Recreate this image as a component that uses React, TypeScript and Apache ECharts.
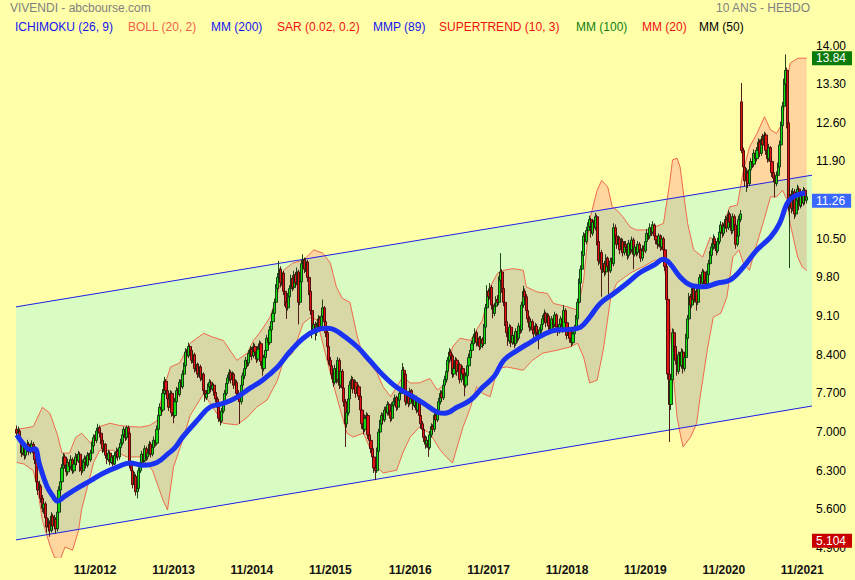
import { useEffect, useRef } from 'react';
import * as echarts from 'echarts';

// ---------- data ----------
const START_UTC = Date.UTC(2011, 10, 7); // first weekly candle (Monday)
const WEEK_COUNT = 528; // categories on the time axis

// weekly candles: [open, close, low, high]
const weeklyCandles: number[][] = [
[7.05,6.98,6.90,7.12],[6.98,7.02,6.92,7.10],[7.02,6.85,6.80,7.06],[6.85,6.62,6.55,6.90],[6.62,6.75,6.58,6.82],
[6.75,6.58,6.50,6.80],[6.58,6.70,6.52,6.76],[6.70,6.78,6.64,6.86],[6.78,6.64,6.58,6.82],[6.64,6.72,6.60,6.80],
[6.72,6.78,6.66,6.85],[6.78,6.62,6.55,6.82],[6.62,6.50,6.42,6.68],[6.50,6.10,6.02,6.55],[6.10,5.95,5.86,6.18],
[5.95,6.02,5.88,6.12],[6.02,5.80,5.72,6.06],[5.80,5.62,5.55,5.86],[5.62,5.70,5.52,5.78],[5.70,5.45,5.36,5.74],
[5.45,5.28,5.18,5.50],[5.28,5.35,5.20,5.44],[5.35,5.22,5.104,5.40],[5.22,5.48,5.18,5.55],[5.48,5.30,5.22,5.52],
[5.30,5.42,5.24,5.50],[5.42,5.25,5.16,5.46],[5.25,5.55,5.20,5.62],[5.55,5.95,5.50,6.02],[5.95,6.10,5.88,6.18],
[6.10,6.35,6.05,6.42],[6.35,6.55,6.30,6.62],[6.55,6.40,6.34,6.60],[6.40,6.28,6.20,6.45],[6.28,6.45,6.22,6.52],
[6.45,6.38,6.30,6.50],[6.38,6.50,6.32,6.58],[6.50,6.30,6.24,6.54],[6.30,6.42,6.26,6.48],[6.42,6.55,6.38,6.62],
[6.55,6.48,6.40,6.60],[6.48,6.60,6.44,6.66],[6.60,6.35,6.28,6.64],[6.35,6.30,6.22,6.40],[6.30,6.45,6.26,6.50],
[6.45,6.52,6.40,6.58],[6.52,6.40,6.34,6.56],[6.40,6.58,6.36,6.64],[6.58,6.50,6.44,6.62],[6.50,6.62,6.46,6.68],
[6.62,6.75,6.58,6.82],[6.75,6.90,6.70,6.96],[6.90,6.85,6.78,6.95],[6.85,7.02,6.80,7.08],[7.02,7.08,6.96,7.15],
[7.08,6.98,6.90,7.12],[6.98,6.85,6.78,7.02],[6.85,6.70,6.62,6.90],[6.70,6.78,6.64,6.84],[6.78,6.58,6.52,6.80],
[6.58,6.50,6.42,6.62],[6.50,6.62,6.46,6.68],[6.62,6.45,6.40,6.66],[6.45,6.55,6.42,6.60],[6.55,6.42,6.38,6.58],
[6.42,6.58,6.40,6.64],[6.58,6.65,6.52,6.72],[6.65,6.55,6.48,6.70],[6.55,6.72,6.50,6.78],[6.72,6.80,6.66,6.88],
[6.80,6.95,6.76,7.00],[6.95,7.05,6.90,7.10],[7.05,6.90,6.84,7.08],[6.90,7.08,6.86,7.12],[7.08,6.98,6.92,7.12],
[6.98,6.40,6.34,7.00],[6.40,6.30,6.22,6.46],[6.30,6.05,5.98,6.34],[6.05,6.20,6.00,6.28],[6.20,5.92,5.85,6.24],
[5.92,5.98,5.80,6.05],[5.98,6.30,5.94,6.36],[6.30,6.45,6.26,6.52],[6.45,6.60,6.40,6.66],[6.60,6.48,6.42,6.64],
[6.48,6.70,6.45,6.76],[6.70,6.55,6.48,6.74],[6.55,6.62,6.50,6.68],[6.62,6.78,6.58,6.84],[6.78,6.60,6.54,6.82],
[6.60,6.72,6.56,6.78],[6.72,6.85,6.68,6.92],[6.85,6.80,6.74,6.90],[6.80,7.05,6.76,7.12],[7.05,7.30,7.00,7.38],
[7.30,7.45,7.25,7.52],[7.45,7.40,7.32,7.50],[7.40,7.70,7.36,7.78],[7.70,7.92,7.65,8.00],[7.92,7.75,7.68,7.96],
[7.75,7.60,7.52,7.80],[7.60,7.45,7.38,7.65],[7.45,7.70,7.40,7.76],[7.70,7.35,7.28,7.74],[7.35,7.30,7.16,7.42],
[7.30,7.55,7.26,7.62],[7.55,7.75,7.50,7.82],[7.75,7.68,7.60,7.80],[7.68,7.90,7.64,7.96],[7.90,7.82,7.75,7.95],
[7.82,8.05,7.78,8.12],[8.05,8.20,8.00,8.26],[8.20,8.45,8.15,8.52],[8.45,8.38,8.30,8.50],[8.38,8.55,8.34,8.62],
[8.55,8.48,8.40,8.58],[8.48,8.30,8.24,8.52],[8.30,8.40,8.25,8.46],[8.40,8.15,8.08,8.44],[8.15,8.22,8.10,8.28],
[8.22,8.05,7.98,8.26],[8.05,8.18,8.00,8.24],[8.18,7.98,7.92,8.22],[7.98,8.05,7.94,8.10],[8.05,7.75,7.68,8.08],
[7.75,7.62,7.55,7.80],[7.62,7.70,7.58,7.76],[7.70,7.82,7.66,7.88],[7.82,7.90,7.76,7.96],[7.90,7.78,7.72,7.94],
[7.78,7.85,7.74,7.90],[7.85,7.72,7.66,7.88],[7.72,7.60,7.54,7.76],[7.60,7.45,7.38,7.64],[7.45,7.25,7.18,7.48],
[7.25,7.20,7.12,7.30],[7.20,7.38,7.16,7.44],[7.38,7.55,7.34,7.60],[7.55,7.70,7.50,7.76],[7.70,7.88,7.66,7.94],
[7.88,7.98,7.84,8.04],[7.98,8.08,7.92,8.14],[8.08,7.95,7.88,8.12],[7.95,8.05,7.90,8.10],[8.05,7.85,7.78,8.08],
[7.85,7.90,7.80,7.96],[7.90,7.70,7.62,7.94],[7.70,7.62,7.55,7.76],[7.62,7.55,7.15,7.66],[7.55,7.85,7.50,7.92],
[7.85,8.02,7.80,8.08],[8.02,8.15,7.96,8.22],[8.15,8.30,8.10,8.36],[8.30,8.25,8.18,8.36],[8.25,8.42,8.20,8.48],
[8.42,8.50,8.36,8.56],[8.50,8.38,8.30,8.54],[8.38,8.55,8.34,8.62],[8.55,8.45,8.38,8.60],[8.45,8.32,8.25,8.50],
[8.32,8.50,8.28,8.56],[8.50,8.60,8.45,8.66],[8.60,8.28,8.20,8.64],[8.28,8.15,8.02,8.32],[8.15,8.35,8.10,8.40],
[8.35,8.48,8.30,8.54],[8.48,8.70,8.44,8.76],[8.70,8.62,8.55,8.76],[8.62,8.85,8.58,8.92],[8.85,9.00,8.80,9.06],
[9.00,9.15,8.94,9.22],[9.15,9.35,9.10,9.42],[9.35,9.60,9.30,9.68],[9.60,9.80,9.55,9.88],[9.80,9.95,9.74,10.10],
[9.95,9.70,9.62,10.00],[9.70,9.88,9.65,9.94],[9.88,9.55,9.48,9.92],[9.55,9.35,9.28,9.60],[9.35,9.25,9.05,9.40],
[9.25,9.45,9.20,9.52],[9.45,9.60,9.40,9.66],[9.60,9.78,9.55,9.85],[9.78,9.62,9.55,9.84],[9.62,9.85,9.58,9.92],
[9.85,9.70,9.62,9.90],[9.70,9.90,9.66,9.98],[9.90,9.35,8.95,9.94],[9.35,9.72,9.30,9.78],[9.72,10.05,9.68,10.12],
[10.05,10.12,9.98,10.22],[10.12,9.95,9.88,10.16],[9.95,10.08,9.90,10.15],[10.08,9.80,9.72,10.12],[9.80,9.55,9.48,9.85],
[9.55,9.20,9.12,9.60],[9.20,8.85,8.70,9.25],[8.85,8.95,8.78,9.02],[8.95,8.80,8.66,9.00],[8.80,8.92,8.74,8.98],
[8.92,9.05,8.88,9.12],[9.05,8.90,8.82,9.10],[8.90,9.10,8.86,9.16],[9.10,9.25,9.05,9.40],[9.25,9.00,8.92,9.28],
[9.00,8.80,8.72,9.04],[8.80,8.55,8.48,8.85],[8.55,8.30,8.22,8.60],[8.30,8.20,8.12,8.36],[8.20,8.05,7.96,8.26],
[8.05,7.90,7.82,8.10],[7.90,8.15,7.86,8.22],[8.15,7.95,7.88,8.20],[7.95,8.30,7.90,8.36],[8.30,7.85,7.78,8.34],
[7.85,8.10,7.80,8.16],[8.10,7.80,7.72,8.14],[7.80,7.55,7.46,7.84],[7.55,7.15,6.73,7.60],[7.15,7.35,7.08,7.42],
[7.35,7.60,7.30,7.66],[7.60,7.85,7.55,7.92],[7.85,7.95,7.80,8.02],[7.95,7.78,7.70,8.00],[7.78,7.90,7.74,7.96],
[7.90,7.70,7.62,7.94],[7.70,7.82,7.66,7.88],[7.82,7.65,7.58,7.86],[7.65,7.40,7.32,7.70],[7.40,7.15,7.06,7.44],
[7.15,7.05,6.96,7.20],[7.05,7.25,7.00,7.32],[7.25,7.30,7.18,7.36],[7.30,6.95,6.88,7.34],[6.95,6.85,6.76,7.00],
[6.85,6.70,6.62,6.90],[6.70,6.55,6.46,6.74],[6.55,6.35,6.26,6.60],[6.35,6.30,6.13,6.42],[6.30,6.65,6.26,6.72],
[6.65,7.00,6.60,7.06],[7.00,7.15,6.94,7.22],[7.15,7.30,7.10,7.36],[7.30,7.22,7.14,7.34],[7.22,7.40,7.18,7.46],
[7.40,7.35,7.28,7.46],[7.35,7.50,7.30,7.56],[7.50,7.38,7.30,7.54],[7.38,7.25,7.18,7.42],[7.25,7.48,7.20,7.54],
[7.48,7.55,7.42,7.62],[7.55,7.62,7.50,7.68],[7.62,7.45,7.38,7.66],[7.45,7.58,7.40,7.64],[7.58,7.70,7.54,7.76],
[7.70,7.75,7.64,7.82],[7.75,8.12,7.70,8.25],[8.12,8.05,7.96,8.18],[8.05,7.55,7.48,8.08],[7.55,7.70,7.50,7.76],
[7.70,7.52,7.45,7.74],[7.52,7.75,7.48,7.80],[7.75,7.60,7.54,7.78],[7.60,7.48,7.40,7.64],[7.48,7.62,7.44,7.68],
[7.62,7.40,7.34,7.66],[7.40,7.55,7.36,7.60],[7.55,7.30,7.22,7.58],[7.30,7.15,7.06,7.34],[7.15,7.05,6.96,7.20],
[7.05,6.90,6.82,7.10],[6.90,6.78,6.70,6.94],[6.78,6.85,6.72,6.92],[6.85,6.72,6.55,6.90],[6.72,6.95,6.68,7.02],
[6.95,7.10,6.90,7.16],[7.10,7.05,6.98,7.14],[7.05,7.30,7.00,7.36],[7.30,7.22,7.14,7.34],[7.22,7.40,7.18,7.46],
[7.40,7.55,7.36,7.62],[7.55,7.70,7.50,7.76],[7.70,7.62,7.55,7.75],[7.62,7.85,7.58,7.92],[7.85,7.95,7.80,8.02],
[7.95,8.10,7.90,8.16],[8.10,8.30,8.05,8.36],[8.30,8.45,8.25,8.52],[8.45,8.38,8.30,8.50],[8.38,8.05,7.98,8.42],
[8.05,8.15,8.00,8.22],[8.15,8.30,8.10,8.36],[8.30,8.10,8.02,8.34],[8.10,8.22,8.05,8.28],[8.22,7.95,7.88,8.26],
[7.95,8.15,7.90,8.20],[8.15,8.05,7.98,8.20],[8.05,7.85,7.65,8.10],[7.85,8.02,7.80,8.08],[8.02,8.20,7.98,8.26],
[8.20,8.35,8.15,8.42],[8.35,8.48,8.30,8.55],[8.48,8.60,8.42,8.66],[8.60,8.72,8.55,8.78],[8.72,8.80,8.66,8.88],
[8.80,8.62,8.55,8.84],[8.62,8.70,8.56,8.76],[8.70,8.55,8.48,8.74],[8.55,8.68,8.50,8.74],[8.68,8.60,8.52,8.72],
[8.60,8.90,8.56,8.96],[8.90,9.25,8.86,9.32],[9.25,9.55,9.20,9.66],[9.55,9.45,9.38,9.60],[9.45,9.62,9.40,9.70],
[9.62,9.30,9.22,9.66],[9.30,9.15,9.06,9.35],[9.15,9.28,9.10,9.34],[9.28,9.40,9.22,9.46],[9.40,9.35,9.28,9.48],
[9.35,9.75,9.30,9.82],[9.75,9.90,9.70,10.24],[9.90,9.60,9.52,9.95],[9.60,9.35,9.28,9.66],[9.35,9.00,8.92,9.40],
[9.00,8.80,8.72,9.05],[8.80,8.65,8.56,8.86],[8.65,8.90,8.60,8.96],[8.90,8.62,8.54,8.94],[8.62,8.75,8.58,8.82],
[8.75,8.60,8.52,8.80],[8.60,8.82,8.56,8.88],[8.82,8.70,8.62,8.86],[8.70,8.92,8.66,8.98],[8.92,8.85,8.78,8.96],
[8.85,9.30,8.80,9.36],[9.30,9.55,9.25,9.65],[9.55,9.45,9.38,9.60],[9.45,9.20,9.12,9.50],[9.20,9.05,8.98,9.25],
[9.05,8.90,8.82,9.10],[8.90,9.00,8.84,9.06],[9.00,8.85,8.78,9.04],[8.85,8.78,8.70,8.90],[8.78,8.92,8.74,8.98],
[8.92,8.80,8.72,8.96],[8.80,8.72,8.50,8.84],[8.72,8.85,8.68,8.90],[8.85,8.95,8.80,9.02],[8.95,9.05,8.90,9.12],
[9.05,9.15,9.00,9.22],[9.15,8.98,8.90,9.18],[8.98,9.10,8.94,9.16],[9.10,8.92,8.85,9.14],[8.92,8.85,8.78,8.96],
[8.85,9.05,8.80,9.10],[9.05,8.95,8.88,9.08],[8.95,9.12,8.90,9.18],[9.12,8.90,8.82,9.15],[8.90,8.82,8.74,8.94],
[8.82,8.95,8.78,9.00],[8.95,9.05,8.90,9.10],[9.05,8.88,8.80,9.08],[8.88,9.20,8.84,9.30],[9.20,8.98,8.90,9.24],
[8.98,8.75,8.68,9.02],[8.75,8.85,8.70,8.92],[8.85,8.70,8.62,8.88],[8.70,8.62,8.55,8.74],[8.62,8.78,8.58,8.84],
[8.78,8.88,8.72,8.94],[8.88,9.05,8.84,9.12],[9.05,9.35,9.00,9.42],[9.35,9.70,9.30,9.78],[9.70,9.95,9.65,10.02],
[9.95,10.20,9.90,10.28],[10.20,10.55,10.15,10.62],[10.55,10.45,10.38,10.60],[10.45,10.65,10.40,10.72],[10.65,10.72,10.58,10.80],
[10.72,10.85,10.66,10.92],[10.85,10.60,10.52,10.88],[10.60,10.80,10.55,10.86],[10.80,10.70,10.62,10.84],[10.70,10.90,10.65,10.97],
[10.90,10.45,10.38,10.94],[10.45,10.10,10.02,10.50],[10.10,10.25,10.05,10.32],[10.25,9.95,9.45,10.30],[9.95,10.05,9.88,10.12],
[10.05,9.90,9.82,10.10],[9.90,10.15,9.85,10.22],[10.15,10.00,9.92,10.18],[10.00,9.92,9.50,10.06],[9.92,10.10,9.88,10.16],
[10.10,10.05,9.98,10.16],[10.05,10.70,10.00,10.78],[10.70,10.55,10.48,10.76],[10.55,10.40,10.32,10.60],[10.40,10.50,10.35,10.56],
[10.50,10.30,10.22,10.54],[10.30,10.45,10.25,10.52],[10.45,10.25,10.18,10.50],[10.25,10.40,10.20,10.46],[10.40,10.35,10.28,10.46],
[10.35,10.20,10.12,10.40],[10.20,10.42,10.15,10.48],[10.42,10.30,10.22,10.46],[10.30,10.48,10.25,10.54],[10.48,10.22,9.95,10.52],
[10.22,10.35,10.18,10.40],[10.35,10.25,10.18,10.40],[10.25,10.40,10.20,10.46],[10.40,10.30,10.22,10.44],[10.30,10.15,10.08,10.34],
[10.15,10.32,10.10,10.38],[10.32,10.28,10.20,10.38],[10.28,10.45,10.24,10.52],[10.45,10.60,10.40,10.68],[10.60,10.55,10.48,10.66],
[10.55,10.70,10.50,10.78],[10.70,10.62,10.55,10.76],[10.62,10.75,10.58,10.82],[10.75,10.55,10.48,10.78],[10.55,10.48,10.40,10.60],
[10.48,10.40,10.32,10.52],[10.40,10.55,10.36,10.60],[10.55,10.35,10.28,10.58],[10.35,10.50,10.30,10.56],[10.50,10.30,10.22,10.54],
[10.30,10.00,9.92,10.34],[10.00,9.40,9.32,10.04],[9.40,8.05,7.95,9.45],[8.05,7.50,6.82,8.15],[7.50,7.95,7.40,8.05],
[7.95,8.80,7.90,8.88],[8.80,8.55,8.46,8.86],[8.55,8.30,8.22,8.60],[8.30,8.10,8.02,8.36],[8.10,8.40,8.05,8.46],
[8.40,8.20,8.12,8.45],[8.20,8.45,8.15,8.52],[8.45,8.15,8.06,8.50],[8.15,8.35,8.10,8.42],[8.35,8.70,8.30,8.78],
[8.70,9.05,8.65,9.12],[9.05,9.45,9.00,9.52],[9.45,9.30,9.22,9.50],[9.30,9.60,9.25,9.68],[9.60,9.40,9.32,9.65],
[9.40,9.55,9.35,9.62],[9.55,9.35,9.20,9.60],[9.35,9.62,9.30,9.68],[9.62,9.80,9.58,9.86],[9.80,9.70,9.62,9.85],
[9.70,9.90,9.66,9.96],[9.90,9.75,9.68,9.94],[9.75,9.68,9.60,9.80],[9.68,9.85,9.64,9.92],[9.85,10.05,9.80,10.12],
[10.05,10.20,10.00,10.28],[10.20,10.35,10.15,10.42],[10.35,10.50,10.30,10.58],[10.50,10.40,10.32,10.55],[10.40,10.28,10.20,10.45],
[10.28,10.45,10.24,10.52],[10.45,10.62,10.40,10.70],[10.62,10.75,10.58,10.82],[10.75,10.60,10.52,10.80],[10.60,10.72,10.55,10.78],
[10.72,10.85,10.68,10.92],[10.85,10.70,10.62,10.90],[10.70,10.95,10.66,11.02],[10.95,10.80,10.72,10.98],[10.80,10.65,10.58,10.84],
[10.65,10.90,10.60,10.96],[10.90,10.75,10.68,10.94],[10.75,10.40,10.32,10.80],[10.40,10.55,10.36,10.62],[10.55,10.85,10.50,10.92],
[10.85,10.95,10.80,11.02],[12.98,12.10,12.05,13.32],[12.10,11.80,11.72,12.15],[11.80,11.55,11.45,11.85],[11.55,11.70,11.35,11.78],
[11.70,11.50,11.42,11.74],[11.50,11.75,11.46,11.82],[11.75,11.90,11.70,11.96],[11.90,11.85,11.78,11.96],[11.85,12.05,11.80,12.12],
[12.05,11.95,11.88,12.10],[11.95,12.10,11.90,12.16],[12.10,12.25,12.05,12.32],[12.25,12.05,11.98,12.30],[12.05,12.30,12.00,12.36],
[12.30,12.20,12.12,12.40],[12.20,12.38,12.15,12.44],[12.38,12.10,12.02,12.42],[12.10,11.95,11.88,12.15],[11.95,12.15,11.90,12.22],
[12.15,11.90,11.82,12.18],[11.90,11.70,11.62,11.95],[11.70,11.60,11.52,11.76],[11.60,11.50,11.25,11.65],[11.50,11.65,11.45,11.72],
[11.65,11.80,11.60,11.88],[11.80,12.20,11.75,12.28],[12.20,12.55,12.15,12.62],[12.55,12.90,12.50,12.98],[12.90,13.30,12.85,13.40],
[13.30,13.55,13.20,13.84],[13.55,12.60,12.50,13.60],[12.60,11.10,11.00,12.65],[11.10,11.30,9.97,11.45],[11.30,11.05,10.96,11.38],
[11.05,11.35,11.00,11.42],[11.35,10.95,10.86,11.40],[10.95,11.20,10.90,11.28],[11.20,11.40,11.15,11.48],[11.40,11.10,11.02,11.45],
[11.10,11.30,11.05,11.36],[11.30,11.15,11.08,11.34],[11.15,11.38,11.10,11.44],[11.38,11.20,11.12,11.42],[11.20,11.26,11.14,11.32],
];

// Bollinger (20, 2) bands: [week index, price]
const bollUpper: number[][] = [
[0,7.05],[5,7.07],[11,7.10],[17,7.45],[22,7.34],[27,6.95],[30,6.62],[35,6.62],[39,6.90],[43,6.98],[49,6.80],[55,7.10],
[62,7.16],[68,7.12],[75,7.10],[82,7.09],[88,7.12],[93,7.20],[97,7.75],[102,8.18],[108,8.25],[115,8.61],[124,8.79],[130,8.72],
[137,8.66],[146,8.30],[153,8.43],[157,8.66],[161,8.79],[168,9.08],[173,9.51],[177,9.93],[183,10.06],[190,10.11],[197,10.30],
[203,10.24],[208,10.06],[212,9.63],[216,9.42],[221,9.35],[226,8.72],[230,8.36],[234,8.25],[239,8.07],[243,7.82],[248,7.64],
[252,7.82],[256,8.00],[261,7.89],[267,7.89],[274,7.97],[279,7.76],[285,7.89],[289,8.54],[294,8.70],[301,8.66],[305,8.85],
[309,9.03],[314,9.63],[319,9.88],[323,9.93],[329,9.96],[336,9.93],[338,9.63],[345,9.54],[352,9.51],[356,9.33],[365,9.27],
[372,9.21],[376,9.75],[380,10.84],[385,11.38],[388,11.56],[392,11.44],[395,11.08],[398,11.02],[402,10.90],[407,10.71],
[411,10.66],[418,10.66],[423,10.71],[429,10.78],[433,11.50],[435,11.93],[438,11.96],[440,11.80],[442,11.38],[445,10.78],
[449,10.30],[455,10.17],[460,10.53],[465,10.42],[469,10.78],[473,11.08],[478,11.11],[482,11.74],[486,12.16],[491,12.41],
[496,12.71],[500,12.47],[504,12.41],[508,12.60],[510,13.20],[513,13.68],[518,13.77],[524,13.77],
];
const bollLower: number[][] = [
[0,6.45],[5,6.42],[11,6.30],[14,5.95],[17,5.40],[22,4.95],[25,4.73],[29,4.70],[32,4.92],[37,4.86],[41,5.22],[43,5.60],
[47,6.02],[51,6.45],[55,6.67],[64,6.67],[73,6.55],[82,6.55],[90,6.31],[97,5.77],[100,5.59],[104,6.37],[110,6.85],[115,7.30],
[124,7.70],[130,7.45],[137,7.16],[146,7.13],[153,7.27],[159,7.45],[166,7.58],[173,7.94],[177,8.30],[183,8.43],[190,8.97],
[195,9.08],[199,9.03],[203,8.61],[208,8.07],[211,7.76],[219,6.98],[223,6.91],[230,6.98],[234,6.73],[239,6.37],[243,6.26],
[252,6.31],[256,6.62],[261,6.91],[267,7.09],[274,6.98],[281,6.67],[285,6.55],[289,6.44],[296,7.09],[301,7.45],[305,7.82],
[309,7.70],[314,7.64],[319,8.15],[325,8.18],[336,8.12],[342,8.30],[349,8.43],[358,8.48],[367,8.54],[372,8.61],[376,8.36],
[379,8.00],[380,7.89],[385,7.94],[389,8.48],[394,9.44],[398,9.70],[407,9.88],[415,9.99],[423,10.11],[429,10.11],[431,9.70],
[433,9.08],[435,8.18],[438,7.27],[440,6.98],[442,6.73],[447,6.91],[451,7.16],[453,7.58],[458,8.48],[462,9.08],[467,9.15],
[471,9.44],[475,10.17],[479,10.30],[482,10.06],[486,9.93],[491,10.42],[495,10.78],[500,11.26],[504,11.26],[508,11.38],
[511,11.20],[513,10.78],[518,10.17],[521,9.99],[524,9.93],
];

// MM (200): [week index, price]
const mm200: number[][] = [
[0,6.95],[4,6.80],[9,6.68],[12,6.70],[15,6.42],[20,6.02],[24,5.84],[27,5.75],[32,5.84],[40,5.98],[49,6.12],[57,6.25],
[67,6.37],[75,6.44],[84,6.40],[93,6.45],[100,6.60],[105,6.72],[110,6.91],[120,7.22],[128,7.45],[137,7.52],[146,7.63],
[155,7.80],[163,7.94],[173,8.18],[181,8.45],[190,8.70],[199,8.85],[206,8.88],[211,8.85],[216,8.76],[226,8.54],[234,8.30],
[243,8.03],[252,7.81],[261,7.67],[270,7.52],[279,7.36],[284,7.34],[292,7.45],[301,7.58],[309,7.81],[317,8.02],[323,8.30],
[332,8.48],[341,8.63],[349,8.76],[358,8.85],[367,8.86],[374,8.90],[380,9.08],[387,9.33],[396,9.51],[405,9.70],[413,9.88],
[423,10.03],[429,10.13],[433,10.06],[440,9.81],[447,9.66],[455,9.63],[465,9.70],[473,9.75],[482,9.99],[491,10.30],
[500,10.53],[506,10.78],[511,11.14],[515,11.26],[523,11.33],
];

// trend channel: price at first and last week of the axis
const channelUpper = [9.27, 11.65];
const channelLower = [5.05, 7.47];

const priceTicks = [4.9, 5.6, 6.3, 7.0, 7.7, 8.4, 9.1, 9.8, 10.5, 11.2, 11.9, 12.6, 13.3, 14.0];

const legendItems = [
  { text: 'ICHIMOKU (26, 9)', color: '#1414f0' },
  { text: 'BOLL (20, 2)', color: '#f2604a' },
  { text: 'MM (200)', color: '#1414f0' },
  { text: 'SAR (0.02, 0.2)', color: '#f01010' },
  { text: 'MMP (89)', color: '#1414f0' },
  { text: 'SUPERTREND (10, 3)', color: '#f01010' },
  { text: 'MM (100)', color: '#108010' },
  { text: 'MM (20)', color: '#f01010' },
  { text: 'MM (50)', color: '#000000' },
];
const legendX = [15, 128, 211, 277, 373, 439, 576, 642, 699];

const TITLE = 'VIVENDI - abcbourse.com';
const PERIOD = '10 ANS - HEBDO';

// colours
const BG = '#ffffaa';
const CHANNEL_FILL = '#d8fcc2';
const BAND_ON_BG = '#ffd69e';
const BAND_ON_CHANNEL = '#d7d8a6';
const BAND_LINE = '#f06a4c';
const CHANNEL_LINE = '#1e1ee6';

// ---------- helpers ----------
const pad = (n: number) => String(n).padStart(2, '0');
const categories: string[] = [];
for (let i = 0; i < WEEK_COUNT; i++) {
  const d = new Date(START_UTC + i * 7 * 86400000);
  categories.push(`${d.getUTCFullYear()}-${pad(d.getUTCMonth() + 1)}-${pad(d.getUTCDate())}`);
}
const fmtPrice = (v: number) => (v >= 9 ? v.toFixed(2) : v.toFixed(3));

// Sutherland–Hodgman: keep the part of `poly` on the same side of line AB as point `inside`
function clipHalfPlane(poly: number[][], A: number[], B: number[], inside: number[]) {
  const side = (p: number[]) => (B[0] - A[0]) * (p[1] - A[1]) - (B[1] - A[1]) * (p[0] - A[0]);
  const sgn = side(inside) >= 0 ? 1 : -1;
  const out: number[][] = [];
  const n = poly.length;
  for (let i = 0; i < n; i++) {
    const cur = poly[i];
    const prev = poly[(i + n - 1) % n];
    const sc = side(cur) * sgn;
    const sp = side(prev) * sgn;
    const cross = () => {
      const t = sp / (sp - sc);
      return [prev[0] + t * (cur[0] - prev[0]), prev[1] + t * (cur[1] - prev[1])];
    };
    if (sc >= 0) {
      if (sp < 0) out.push(cross());
      out.push(cur);
    } else if (sp >= 0) {
      out.push(cross());
    }
  }
  return out;
}

const FONT = '"Liberation Sans", Arial, Helvetica, sans-serif';

export default function App() {
  const ref = useRef<HTMLDivElement>(null);
  useEffect(() => {
    document.body.style.margin = '0';
    const el = ref.current!;
    const chart = echarts.init(el, null, { renderer: 'svg' });

    const highs = weeklyCandles.map((c) => c[3]);
    const lows = weeklyCandles.map((c) => c[2]);
    const maxHigh = Math.max(...highs);
    const minLow = Math.min(...lows);
    const lastClose = weeklyCandles[weeklyCandles.length - 1][1];
    const LAST = WEEK_COUNT - 1;

    const extendLine = (api: any, v0: number, v1: number) => {
      const a = api.coord([0, v0]);
      const b = api.coord([LAST, v1]);
      const half = api.size([1, 0])[0] / 2;
      const slope = (b[1] - a[1]) / (b[0] - a[0]);
      return [
        [a[0] - half, a[1] - slope * half],
        [b[0] + half, b[1] + slope * half],
      ];
    };

    const boxLabel = (bg: string, value: number) => ({
      show: true,
      position: 'end',
      distance: 0,
      offset: [0, 4],
      color: '#ffffff',
      backgroundColor: bg,
      fontFamily: FONT,
      fontSize: 12,
      lineHeight: 12,
      padding: [1, 6, 1, 4],
      formatter: () => fmtPrice(value),
    });

    const option: any = {
      animation: false,
      backgroundColor: BG,
      grid: { left: 16, right: 43, top: 40, bottom: 22, containLabel: false },
      xAxis: {
        type: 'category',
        data: categories,
        boundaryGap: true,
        axisLine: { show: false },
        axisTick: { show: false },
        splitLine: { show: false },
        axisLabel: {
          interval: (_i: number, value: string) => {
            const [y, m, d] = value.split('-').map(Number);
            return m === 11 && d <= 7 && y >= 2012;
          },
          formatter: (value: string) => `11/${value.slice(0, 4)}`,
          color: '#111111',
          fontFamily: '"Liberation Sans Narrow", "Arial Narrow", ' + FONT,
          fontWeight: 'bold',
          fontSize: 12,
          margin: 6,
        },
      },
      yAxis: {
        type: 'value',
        position: 'right',
        min: 4.72,
        max: 14.1,
        axisLine: { show: false },
        axisTick: { show: false },
        splitLine: { show: false },
        axisLabel: {
          customValues: priceTicks,
          formatter: (v: number) => fmtPrice(v),
          color: '#000000',
          fontFamily: FONT,
          fontSize: 12,
          margin: 4,
          align: 'left',
        },
      },
      graphic: [
        { type: 'text', x: 10, y: 8, style: { text: TITLE, fill: '#808080', font: `12px ${FONT}`, verticalAlign: 'middle' } },
        { type: 'text', x: 810, y: 8, style: { text: PERIOD, fill: '#808080', font: `12px ${FONT}`, align: 'right', verticalAlign: 'middle' } },
        ...legendItems.map((it, k) => ({
          type: 'text',
          x: legendX[k],
          y: 27,
          style: { text: it.text, fill: it.color, font: `12px ${FONT}`, verticalAlign: 'middle' },
        })),
      ],
      series: [
        {
          type: 'custom',
          name: 'BOLL',
          data: [[0, 10]],
          encode: { x: 0, y: 1 },
          clip: true,
          z: 1,
          silent: true,
          renderItem: (params: any, api: any) => {
            if (params.dataIndex !== 0) return null;
            const up = bollUpper.map(([w, v]) => api.coord([w, v]));
            const lo = bollLower.map(([w, v]) => api.coord([w, v]));
            const band = up.concat(lo.slice().reverse());
            const cu = extendLine(api, channelUpper[0], channelUpper[1]);
            const cl = extendLine(api, channelLower[0], channelLower[1]);
            const inside = [(cu[0][0] + cu[1][0]) / 2, (cu[0][1] + cu[1][1] + cl[0][1] + cl[1][1]) / 4];
            let inner = clipHalfPlane(band, cu[0], cu[1], inside);
            inner = clipHalfPlane(inner, cl[0], cl[1], inside);
            return {
              type: 'group',
              children: [
                { type: 'polygon', shape: { points: band }, style: { fill: BAND_ON_BG, stroke: null } },
                { type: 'polygon', shape: { points: [cu[0], cu[1], cl[1], cl[0]] }, style: { fill: CHANNEL_FILL, stroke: null } },
                { type: 'polygon', shape: { points: inner }, style: { fill: BAND_ON_CHANNEL, stroke: null } },
                { type: 'polyline', shape: { points: up }, style: { fill: null, stroke: BAND_LINE, lineWidth: 1 } },
                { type: 'polyline', shape: { points: lo }, style: { fill: null, stroke: BAND_LINE, lineWidth: 1 } },
                { type: 'polyline', shape: { points: cu }, style: { fill: null, stroke: CHANNEL_LINE, lineWidth: 1 } },
                { type: 'polyline', shape: { points: cl }, style: { fill: null, stroke: CHANNEL_LINE, lineWidth: 1 } },
              ],
            };
          },
        },
        {
          type: 'candlestick',
          name: 'VIVENDI',
          data: weeklyCandles,
          z: 3,
          barWidth: 2.6,
          itemStyle: {
            color: '#10dc10',
            color0: '#e01212',
            borderColor: '#0c300c',
            borderColor0: '#420606',
            borderWidth: 0.9,
          },
        },
        {
          type: 'line',
          name: 'MM (200)',
          data: mm200,
          smooth: 0.4,
          showSymbol: false,
          clip: false,
          z: 4,
          lineStyle: { color: '#1a33f2', width: 5 },
          markLine: {
            silent: true,
            symbol: 'none',
            precision: 3,
            lineStyle: { color: 'rgba(0,0,0,0)', width: 1, type: 'solid' },
            data: [
              { yAxis: maxHigh, label: boxLabel('#0a7a0a', maxHigh) },
              { yAxis: lastClose, label: boxLabel('#3a68ff', lastClose) },
              { yAxis: minLow, label: boxLabel('#c80000', minLow) },
            ],
          },
        },
      ],
    };
    chart.setOption(option);
    return () => chart.dispose();
  }, []);
  return <div ref={ref} style={{ width: 855, height: 580 }} />;
}
